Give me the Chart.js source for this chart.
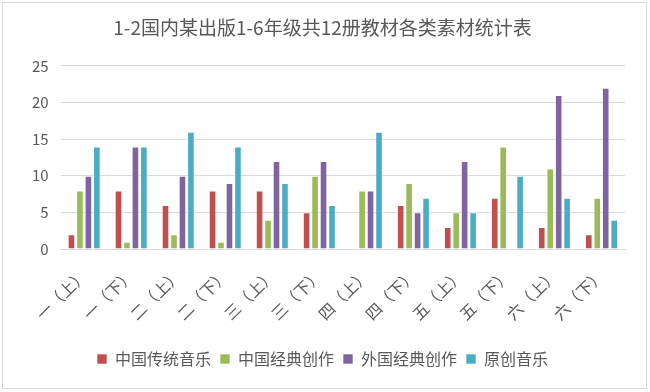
<!DOCTYPE html>
<html>
<head>
<meta charset="utf-8">
<script src="https://cdn.jsdelivr.net/npm/chart.js@4/dist/chart.umd.min.js"></script>
<style>
  body { margin: 0; background: #fff; }
  #box { position: absolute; left: 2px; top: 2px; width: 643px; height: 385px; border: 1px solid #d9d9d9; }
  #wrap { position: absolute; left: 0; top: 0; width: 643px; height: 385px; }
</style>
</head>
<body>
<div id="box"><div id="wrap"><canvas id="statisticsChart"></canvas></div></div>
<script>
// categories and series
const categories = ['一（上）', '一（下）', '二（上）', '二（下）', '三（上）', '三（下）',
                    '四（上）', '四（下）', '五（上）', '五（下）', '六（上）', '六（下）'];
const traditional = [2, 8, 6, 8, 8, 5, 0, 6, 3, 7, 3, 2];
const classicCn = [8, 1, 2, 1, 4, 10, 8, 9, 5, 14, 11, 7];
const classicForeign = [10, 14, 10, 9, 12, 12, 8, 5, 12, 0, 21, 22];
const original = [14, 14, 16, 14, 9, 6, 16, 7, 5, 10, 7, 4];
const yTicks = [0, 5, 10, 15, 20, 25];

const font = "'Noto Sans CJK SC', 'Noto Sans', sans-serif";

function makeSet(label, data, color) {
  return {
    label: label,
    data: data,
    backgroundColor: color,
    borderColor: 'rgba(255,255,255,0.6)',
    borderWidth: 1,
    barPercentage: 0.9,
    categoryPercentage: 0.72
  };
}

const ctx = document.getElementById('statisticsChart').getContext('2d');
new Chart(ctx, {
  type: 'bar',
  data: {
    labels: categories,
    datasets: [
      makeSet('中国传统音乐', traditional, '#C0504D'),
      makeSet('中国经典创作', classicCn, '#9BBB59'),
      makeSet('外国经典创作', classicForeign, '#8064A2'),
      makeSet('原创音乐', original, '#4BACC6')
    ]
  },
  options: {
    responsive: true,
    maintainAspectRatio: false,
    animation: false,
    layout: { padding: { left: 17, right: 21, top: 8, bottom: 11 } },
    plugins: {
      title: {
        display: true,
        text: '1-2国内某出版1-6年级共12册教材各类素材统计表',
        color: '#595959',
        font: { family: font, size: 19, weight: 'normal' },
        padding: { top: 5, bottom: 27 }
      },
      legend: {
        display: true,
        position: 'bottom',
        labels: {
          color: '#595959',
          font: { family: font, size: 16 },
          boxWidth: 10,
          boxHeight: 10,
          padding: 9
        }
      },
      tooltip: { enabled: false }
    },
    scales: {
      x: {
        grid: { display: false },
        border: { color: '#d9d9d9' },
        afterFit: function(axis) { axis.height = 93; },
        ticks: {
          color: '#595959',
          font: { family: font, size: 16 },
          minRotation: 45,
          maxRotation: 45,
          padding: 8
        }
      },
      y: {
        min: 0,
        max: 25,
        afterBuildTicks: function(axis) {
          axis.ticks = yTicks.map(v => ({ value: v }));
        },
        grid: { color: '#d9d9d9', lineWidth: 1, drawTicks: false },
        border: { display: false },
        ticks: {
          color: '#595959',
          font: { family: font, size: 15 },
          padding: 12
        }
      }
    }
  }
});
</script>
</body>
</html>
